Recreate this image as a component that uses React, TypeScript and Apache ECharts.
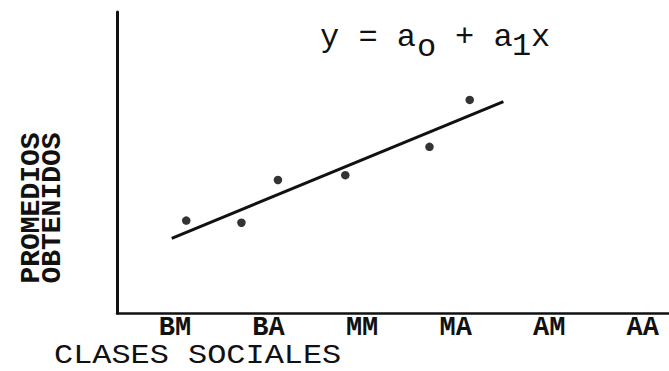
import React, { useEffect, useRef } from "react";
import * as echarts from "echarts";

// Category labels on the x axis (social classes)
const categories = ["BM", "BA", "MM", "MA", "AM", "AA"];
const categoryPositions = [0, 1, 2, 3, 4, 5];

// Observed averages (scatter points), x in category units
const pointX = [0.12, 0.71, 1.1, 1.82, 2.72, 3.15];
const pointY = [3.07, 3.0, 4.42, 4.58, 5.52, 7.08];

// Fitted regression line endpoints
const fitX = [-0.035, 3.51];
const fitY = [2.48, 7.02];

const MONO = "'Liberation Mono', 'DejaVu Sans Mono', monospace";
const INK = "#111";

export default function App() {
  const ref = useRef<HTMLDivElement>(null);

  useEffect(() => {
    if (!ref.current) return;
    const chart = echarts.init(ref.current, undefined, { renderer: "svg" });

    const scatterData = pointX.map((x, i) => [x, pointY[i]]);
    const lineData = fitX.map((x, i) => [x, fitY[i]]);

    const txt = (text: string, x: number, y: number, size: number, extra: any = {}) => ({
      type: "text",
      x,
      y,
      rotation: extra.rotation || 0,
      scaleX: extra.scaleX || 1,
      silent: true,
      style: {
        text,
        fontSize: size,
        fontFamily: MONO,
        fontWeight: extra.fontWeight || "normal",
        lineHeight: extra.lineHeight || size,
        fill: INK,
        align: extra.align || "left",
        verticalAlign: "middle",
      },
    });

    chart.setOption({
      animation: false,
      backgroundColor: "#fff",
      grid: { left: 117, right: 0, top: 12, bottom: 58, containLabel: false },
      xAxis: {
        type: "value",
        min: -0.62,
        max: 5.28,
        axisLine: { show: true, onZero: false, lineStyle: { color: INK, width: 2.5 } },
        axisTick: { show: false },
        splitLine: { show: false },
        axisLabel: {
          customValues: categoryPositions,
          formatter: (v: number) => categories[Math.round(v)] ?? "",
          fontFamily: MONO,
          fontSize: 27,
          lineHeight: 20,
          fontWeight: "bold",
          color: INK,
          margin: 15,
          verticalAlign: "middle",
        },
      },
      yAxis: {
        type: "value",
        min: 0,
        max: 10,
        axisLine: { show: true, onZero: false, lineStyle: { color: INK, width: 3 } },
        axisTick: { show: false },
        splitLine: { show: false },
        axisLabel: { show: false },
      },
      series: [
        {
          type: "line",
          data: lineData,
          showSymbol: false,
          lineStyle: { color: INK, width: 3 },
          silent: true,
        },
        {
          type: "scatter",
          data: scatterData,
          symbol: "circle",
          symbolSize: 8.5,
          itemStyle: { color: "#000" },
          silent: true,
        },
      ],
      graphic: [
        txt("y = a", 320, 37.5, 32),
        txt("o", 417, 47, 32),
        txt("+ a", 455, 37.5, 32),
        txt("1", 512, 46, 32),
        txt("x", 531, 37.5, 32),
        txt("CLASES SOCIALES", 54, 356, 28, { lineHeight: 22, scaleX: 1.14 }),
        txt("PROMEDIOS", 31, 208, 28, { rotation: Math.PI / 2, align: "center", fontWeight: "bold", lineHeight: 20 }),
        txt("OBTENIDOS", 52.5, 208, 28, { rotation: Math.PI / 2, align: "center", fontWeight: "bold", lineHeight: 20 }),
      ],
    });

    return () => chart.dispose();
  }, []);

  return (
    <div
      ref={ref}
      style={{ position: "fixed", left: 0, top: 0, width: 669, height: 371, background: "#fff" }}
    />
  );
}
